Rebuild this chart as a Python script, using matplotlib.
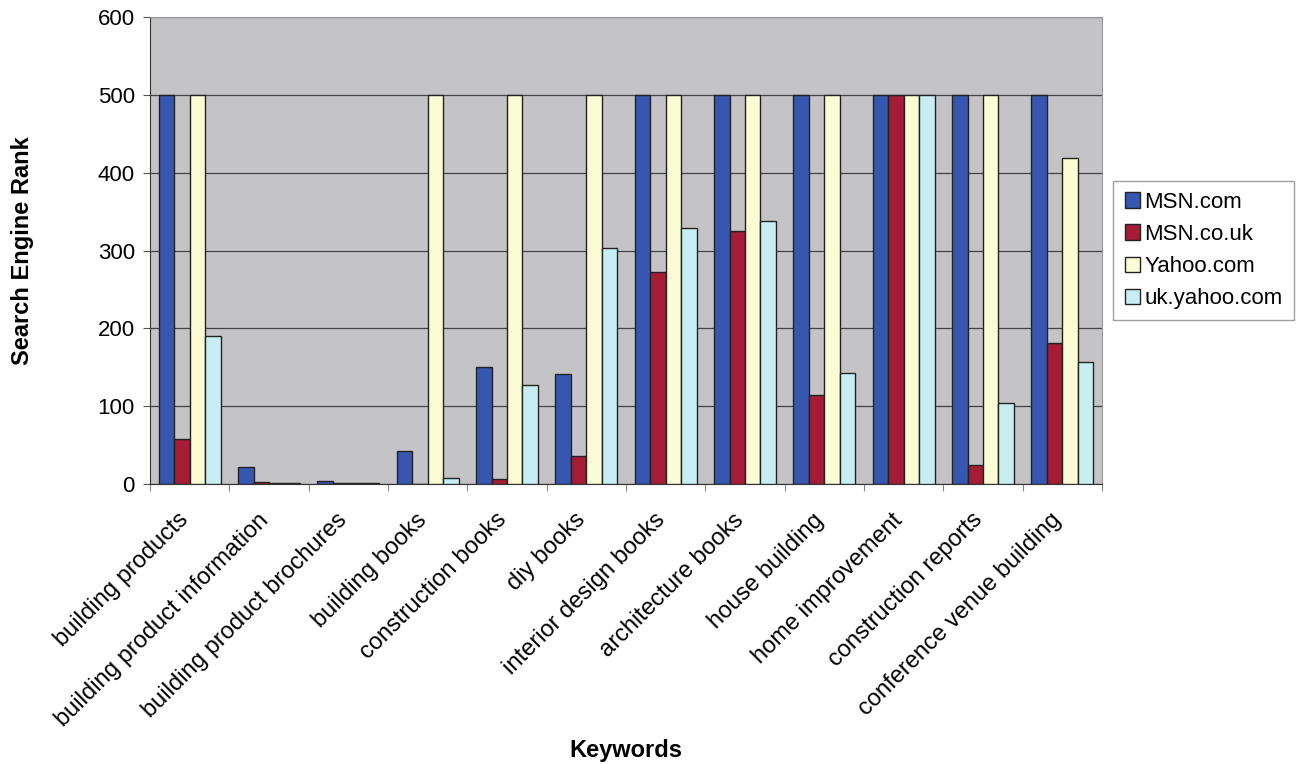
import matplotlib
import matplotlib.pyplot as plt
import matplotlib.transforms as mtransforms
import numpy as np

matplotlib.use('Agg')

keywords = ['building products', 'building product information', 'building product brochures',
            'building books', 'construction books', 'diy books', 'interior design books',
            'architecture books', 'house building', 'home improvement', 'construction reports',
            'conference venue building']

msn_com = [500, 22, 4, 42, 150, 141, 500, 500, 500, 500, 500, 500]
msn_co_uk = [58, 2, 1, 0, 7, 36, 272, 325, 114, 500, 24, 181]
yahoo_com = [500, 1, 1, 500, 500, 500, 500, 500, 500, 500, 500, 419]
uk_yahoo_com = [190, 1, 1, 8, 127, 303, 329, 338, 142, 500, 104, 157]

series = [('MSN.com', msn_com, '#3656b0'),
          ('MSN.co.uk', msn_co_uk, '#a51d35'),
          ('Yahoo.com', yahoo_com, '#fcfcd4'),
          ('uk.yahoo.com', uk_yahoo_com, '#c8eef4')]

plt.rcParams['font.family'] = ['Liberation Sans', 'DejaVu Sans']

fig = plt.figure(figsize=(13, 7.64), dpi=100)
ax = fig.add_axes([0.1154, 0.3665, 0.7323, 0.6112])
ax.set_facecolor('#c4c4c6')

x = np.arange(len(keywords))
w = 0.195
for i, (name, vals, col) in enumerate(series):
    ax.bar(x + (i - 1.5) * w, vals, w, color=col, edgecolor='#222222',
           linewidth=1.0, label=name, zorder=3)

ax.set_xlim(-0.5, len(keywords) - 0.5)
ax.set_ylim(0, 600)
ax.set_yticks(np.arange(0, 601, 100))
ax.yaxis.grid(True, color='#444444', linewidth=0.9, zorder=0)

# category ticks sit between groups, labels at group centres
ax.set_xticks(np.arange(-0.5, len(keywords), 1.0))
ax.set_xticklabels([])
ax.set_xticks(x, minor=True)
ax.set_xticklabels(keywords, minor=True, rotation=45, ha='right',
                   rotation_mode='anchor', fontsize=17)
ax.tick_params(axis='x', which='minor', length=0, pad=18)
ax.tick_params(axis='x', which='major', length=5, color='#888888')
ax.tick_params(axis='y', length=5, color='#555555', labelsize=16, pad=6)

# nudge the slanted labels left so their ends sit under the groups
shift = mtransforms.ScaledTranslation(-12 / 100, 0, fig.dpi_scale_trans)
for lab in ax.get_xticklabels(minor=True):
    lab.set_transform(lab.get_transform() + shift)

for s in ['top', 'right']:
    ax.spines[s].set_color('#999999')
for s in ['left', 'bottom']:
    ax.spines[s].set_color('#333333')

ax.set_ylabel('Search Engine Rank', fontsize=17, fontweight='bold', labelpad=46)
ax.set_xlabel('Keywords', fontsize=17, fontweight='bold', labelpad=6)

leg = ax.legend(loc='center left', bbox_to_anchor=(1.012, 0.5), fontsize=16,
                frameon=True, fancybox=False, handlelength=0.7, handleheight=0.7,
                handletextpad=0.2, borderpad=0.5, labelspacing=0.5, borderaxespad=0)
leg.get_frame().set_edgecolor('#888888')
leg.get_frame().set_linewidth(1.0)

fig.savefig('out.png', dpi=100, facecolor='white')
